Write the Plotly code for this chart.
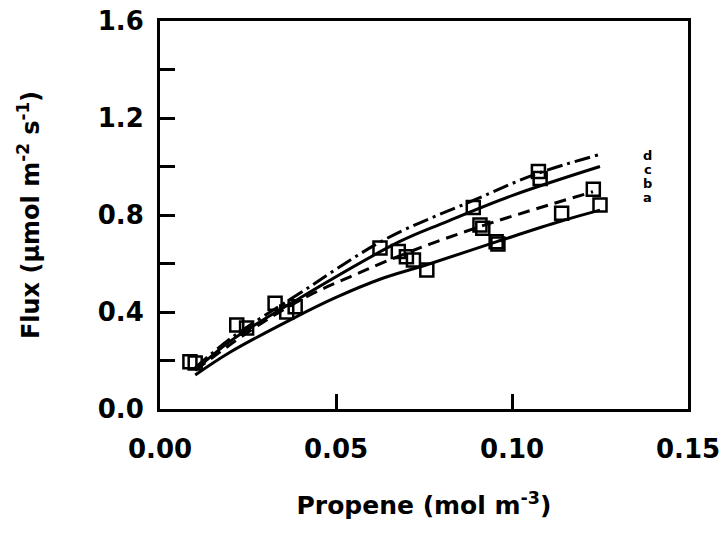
import plotly.graph_objects as go

# measured data (open squares)
obs_x = [0.0085, 0.0100, 0.0218, 0.0246, 0.0327, 0.0360, 0.0384, 0.0625, 0.0677, 0.0700,
         0.0720, 0.0758, 0.0890, 0.0909, 0.0917, 0.0955, 0.0960, 0.1075, 0.1080, 0.1141,
         0.1231, 0.1250]
obs_y = [0.195, 0.190, 0.346, 0.334, 0.436, 0.400, 0.422, 0.664, 0.649, 0.628,
         0.614, 0.573, 0.831, 0.759, 0.745, 0.690, 0.680, 0.979, 0.951, 0.807,
         0.906, 0.841]

# model curves
a_x = [0.010, 0.020, 0.038, 0.050, 0.0625, 0.0758, 0.0957, 0.114, 0.125]
a_y = [0.140, 0.235, 0.375, 0.460, 0.535, 0.595, 0.690, 0.775, 0.820]
b_x = [0.010, 0.0284, 0.0426, 0.054, 0.0644, 0.0767, 0.0957, 0.123]
b_y = [0.160, 0.350, 0.470, 0.545, 0.610, 0.680, 0.775, 0.896]
c_x = [0.010, 0.020, 0.040, 0.068, 0.081, 0.100, 0.125]
c_y = [0.160, 0.280, 0.460, 0.690, 0.770, 0.880, 1.000]
d_x = [0.010, 0.020, 0.040, 0.064, 0.089, 0.107, 0.125]
d_y = [0.170, 0.290, 0.480, 0.700, 0.860, 0.970, 1.050]

curve_labels = ["d", "c", "b", "a"]
label_x = 0.1386
label_y = [1.045, 0.988, 0.930, 0.872]

y_tickvals = [0.0, 0.2, 0.4, 0.6, 0.8, 1.0, 1.2, 1.4, 1.6]
y_ticktext = ["0.0", "", "0.4", "", "0.8", "", "1.2", "", "1.6"]
x_tickvals = [0.0, 0.05, 0.10, 0.15]
x_ticktext = ["0.00", "0.05", "0.10", "0.15"]

FONT = "DejaVu Sans, Verdana, sans-serif"

fig = go.Figure()
line_w = 3
for xs, ys, dash in [(a_x, a_y, "solid"), (b_x, b_y, "12px,7px"),
                     (c_x, c_y, "solid"), (d_x, d_y, "16px,5px,3px,5px")]:
    fig.add_trace(go.Scatter(x=xs, y=ys, mode="lines",
                             line=dict(color="black", width=line_w, dash=dash, shape="spline"),
                             showlegend=False, hoverinfo="skip"))

fig.add_trace(go.Scatter(x=obs_x, y=obs_y, mode="markers",
                         marker=dict(symbol="square-open", size=13, color="black",
                                     line=dict(width=2.5, color="black")),
                         showlegend=False))

for lab, ly in zip(curve_labels, label_y):
    fig.add_annotation(x=label_x, y=ly, text=lab, showarrow=False,
                       font=dict(family=FONT, size=13, color="black", weight="bold"))

fig.update_layout(
    width=723, height=544,
    margin=dict(l=160, r=35, t=21, b=135),
    paper_bgcolor="white", plot_bgcolor="white",
    font=dict(family=FONT, color="black", weight="bold"),
)
fig.update_xaxes(range=[0, 0.15], tickvals=x_tickvals, ticktext=x_ticktext,
                 ticks="inside", ticklen=15, tickwidth=2.5, tickcolor="black",
                 showline=True, linewidth=3, linecolor="black", mirror=True,
                 showgrid=False, zeroline=False, automargin=False,
                 tickfont=dict(family=FONT, size=26, weight="bold"),
                 ticklabelstandoff=15,
                 title=dict(text="Propene (mol m<sup>-3</sup>)", standoff=34,
                            font=dict(family=FONT, size=25, weight="bold")))
fig.update_yaxes(range=[0, 1.6], tickvals=y_tickvals, ticktext=y_ticktext,
                 ticks="inside", ticklen=15, tickwidth=2.5, tickcolor="black",
                 showline=True, linewidth=3, linecolor="black", mirror=True,
                 showgrid=False, zeroline=False, automargin=False,
                 tickfont=dict(family=FONT, size=26, weight="bold"),
                 ticklabelstandoff=8,
                 title=dict(text="Flux (µmol m<sup>-2</sup> s<sup>-1</sup>)", standoff=52,
                            font=dict(family=FONT, size=24, weight="bold")))

fig.write_html("out.html")
